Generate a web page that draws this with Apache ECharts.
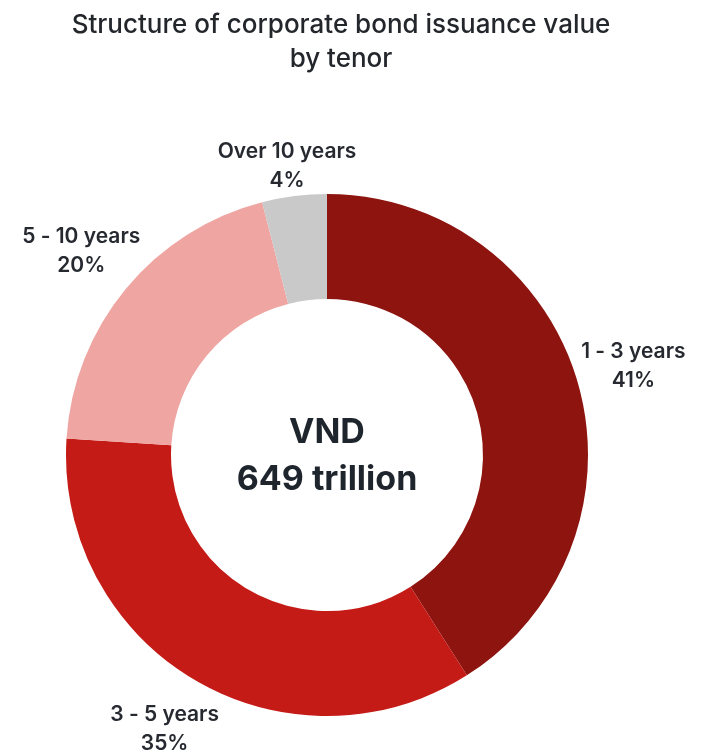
<!DOCTYPE html>
<html>
<head>
<meta charset="utf-8">
<script src="https://cdn.jsdelivr.net/npm/echarts@6/dist/echarts.min.js"></script>
<style>
  html, body { margin: 0; padding: 0; background: #ffffff; }
  #chart { width: 712px; height: 753px; }
</style>
</head>
<body>
<div id="chart"></div>
<script>
// Issuance value split by tenor (share of total, %)
const tenors = ['1 - 3 years', '3 - 5 years', '5 - 10 years', 'Over 10 years'];
const shares = [41, 35, 20, 4];
const sliceColors = ['#8e1410', '#c41b17', '#efa5a1', '#c9c9c9'];
const totalLines = ['VND', '649 trillion'];

const center = [327, 455];
const textColor = '#262a30';
const font = 'Inter, "Noto Sans", sans-serif';

const ringData = tenors.map((name, i) => ({
  name: name,
  value: shares[i],
  itemStyle: { color: sliceColors[i] }
}));

// Invisible outer ring used only to place the category labels along each slice's mid-angle
const labelData = tenors.map((name, i) => ({
  name: name,
  value: shares[i],
  label: i === 3 ? { offset: [0, 28] } : {}
}));

const chart = echarts.init(document.getElementById('chart'), null, { renderer: 'canvas' });
chart.setOption({
  backgroundColor: '#ffffff',
  animation: false,
  title: {
    text: 'Structure of corporate bond issuance value\nby tenor',
    left: 336,
    top: 3,
    textAlign: 'center',
    textStyle: {
      fontFamily: font,
      fontSize: 26,
      fontWeight: 500,
      color: '#23262b',
      lineHeight: 34
    }
  },
  series: [
    {
      type: 'pie',
      center: center,
      radius: [156, 261],
      startAngle: 90,
      clockwise: true,
      silent: true,
      label: { show: false },
      labelLine: { show: false },
      itemStyle: { borderWidth: 0 },
      data: ringData
    },
    {
      type: 'pie',
      center: center,
      radius: [300, 332],
      startAngle: 90,
      clockwise: true,
      silent: true,
      itemStyle: { color: 'rgba(0,0,0,0)' },
      labelLine: { show: false },
      label: {
        show: true,
        position: 'inside',
        formatter: p => p.name + '\n' + p.value + '%',
        fontFamily: font,
        fontSize: 21,
        fontWeight: 600,
        lineHeight: 29,
        color: textColor,
        align: 'center'
      },
      data: labelData
    }
  ],
  graphic: [
    {
      type: 'text',
      x: center[0],
      y: center[1] + 1,
      style: {
        text: totalLines.join('\n'),
        align: 'center',
        verticalAlign: 'middle',
        fontFamily: font,
        fontSize: 34,
        fontWeight: 700,
        lineHeight: 47,
        fill: '#1f252d'
      }
    }
  ]
});
</script>
</body>
</html>
